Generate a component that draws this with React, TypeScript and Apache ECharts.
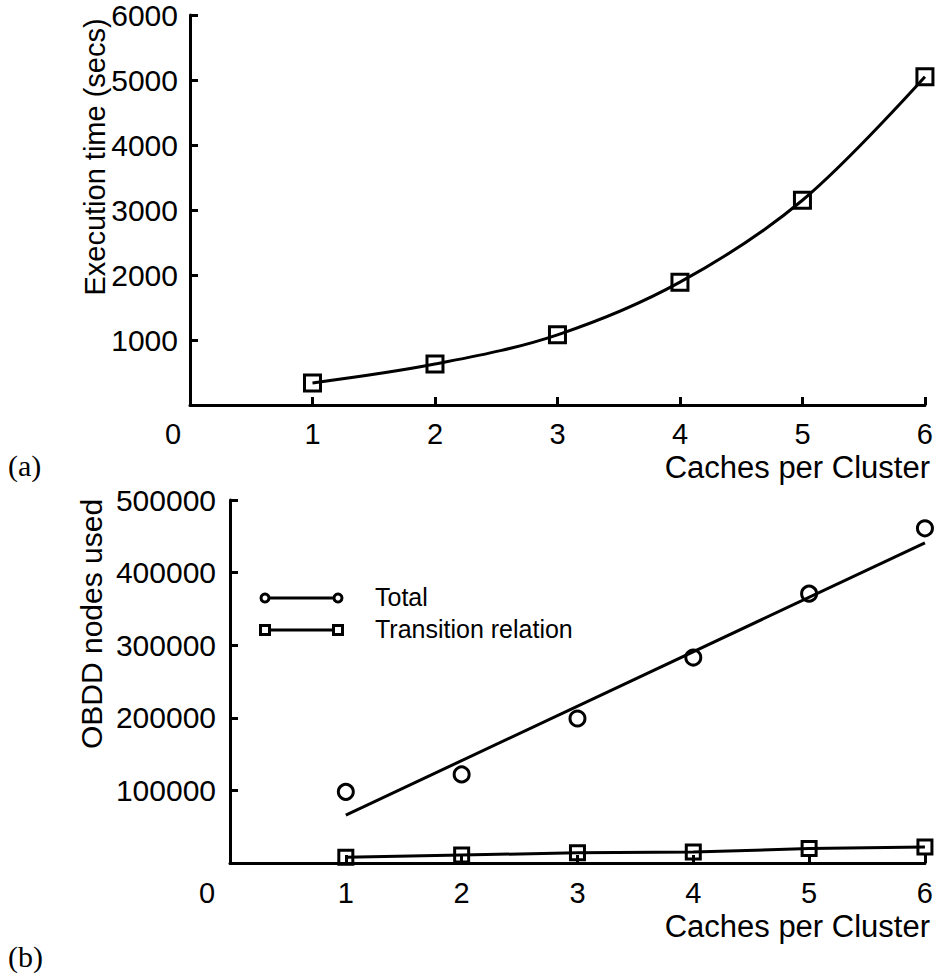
import React, { useEffect, useRef } from 'react';
import * as echarts from 'echarts';

// Data
const cachesPerCluster = [1, 2, 3, 4, 5, 6];
const executionTimeSecs = [340, 630, 1080, 1890, 3150, 5050];
const obddTotal = [98000, 122000, 199000, 283000, 371000, 461000];
const obddTotalFitX = [1, 6];
const obddTotalFit = [66000, 441000];
const obddTransition = [8000, 11000, 14000, 15000, 20000, 22000];

const xTickLabels = ['0', '1', '2', '3', '4', '5', '6'];
const execTickLabels = ['', '1000', '2000', '3000', '4000', '5000', '6000'];
const obddTickLabels = ['', '100000', '200000', '300000', '400000', '500000'];

const FONT = "'Liberation Sans', Arial, Helvetica, sans-serif";
const SERIF = "'Liberation Serif', 'Times New Roman', serif";
const BLACK = '#000';

export default function App() {
  const ref = useRef<HTMLDivElement>(null);

  useEffect(() => {
    if (!ref.current) return;
    const chart = echarts.init(ref.current, undefined, { renderer: 'svg' });

    const axisLine = { show: true, lineStyle: { color: BLACK, width: 3 } };
    const axisTick = { show: true, inside: true, length: 8, lineStyle: { color: BLACK, width: 3 } };

    const makeX = (gridIndex: number, zeroPad: number, margin: number) => ({
      type: 'value',
      gridIndex,
      min: 0,
      max: 6,
      interval: 1,
      axisLine,
      axisTick,
      splitLine: { show: false },
      axisLabel: {
        margin,
        color: BLACK,
        fontFamily: FONT,
        fontSize: 29,
        lineHeight: 22,
        formatter: (v: number) => {
          const lbl = xTickLabels[Math.round(v)] ?? String(v);
          return v === 0 ? `{z|${lbl}}` : lbl;
        },
        rich: { z: { fontFamily: FONT, fontSize: 29, lineHeight: 22, color: BLACK, padding: [0, zeroPad, 0, 0] } },
      },
    });

    const symStyle = { color: 'rgba(0,0,0,0)', borderColor: BLACK, borderWidth: 3, opacity: 1 };

    chart.setOption({
      animation: false,
      backgroundColor: '#fff',
      grid: [
        { left: 190, right: 9, top: 15, height: 390 },
        { left: 230, right: 7, top: 500, height: 363 },
      ],
      xAxis: [makeX(0, 34, 18), makeX(1, 46, 19)],
      yAxis: [
        {
          type: 'value',
          gridIndex: 0,
          min: 0,
          max: 6000,
          interval: 1000,
          axisLine,
          axisTick,
          splitLine: { show: false },
          axisLabel: {
            margin: 12,
            color: BLACK,
            fontFamily: FONT,
            fontSize: 30,
            formatter: (v: number) => execTickLabels[Math.round(v / 1000)] ?? '',
          },
        },
        {
          type: 'value',
          gridIndex: 1,
          min: 0,
          max: 500000,
          interval: 100000,
          axisLine,
          axisTick,
          splitLine: { show: false },
          axisLabel: {
            margin: 14,
            color: BLACK,
            fontFamily: FONT,
            fontSize: 30,
            formatter: (v: number) => obddTickLabels[Math.round(v / 100000)] ?? '',
          },
        },
      ],
      series: [
        {
          name: 'Execution time',
          type: 'line',
          xAxisIndex: 0,
          yAxisIndex: 0,
          smooth: 0.35,
          data: cachesPerCluster.map((c, i) => [c, executionTimeSecs[i]]),
          symbol: 'rect',
          symbolSize: 16,
          lineStyle: { color: BLACK, width: 3 },
          itemStyle: symStyle,
        },
        {
          name: 'Total fit',
          type: 'line',
          xAxisIndex: 1,
          yAxisIndex: 1,
          data: obddTotalFitX.map((c, i) => [c, obddTotalFit[i]]),
          symbol: 'none',
          lineStyle: { color: BLACK, width: 3 },
        },
        {
          name: 'Total',
          type: 'scatter',
          xAxisIndex: 1,
          yAxisIndex: 1,
          data: cachesPerCluster.map((c, i) => [c, obddTotal[i]]),
          symbol: 'circle',
          symbolSize: 15,
          itemStyle: symStyle,
        },
        {
          name: 'Transition relation',
          type: 'line',
          xAxisIndex: 1,
          yAxisIndex: 1,
          data: cachesPerCluster.map((c, i) => [c, obddTransition[i]]),
          symbol: 'rect',
          symbolSize: 14,
          lineStyle: { color: BLACK, width: 3 },
          itemStyle: symStyle,
        },
      ],
      graphic: [
        {
          type: 'text',
          x: 95,
          y: 157,
          rotation: Math.PI / 2,
          style: { text: 'Execution time (secs)', font: `29px ${FONT}`, fill: BLACK, align: 'center', verticalAlign: 'middle' },
        },
        {
          type: 'text',
          x: 91,
          y: 624,
          rotation: Math.PI / 2,
          style: { text: 'OBDD nodes used', font: `30px ${FONT}`, fill: BLACK, align: 'center', verticalAlign: 'middle' },
        },
        {
          type: 'text',
          x: 930,
          y: 467,
          style: { text: 'Caches per Cluster', font: `31px ${FONT}`, lineHeight: 24, fill: BLACK, align: 'right', verticalAlign: 'middle' },
        },
        {
          type: 'text',
          x: 930,
          y: 926,
          style: { text: 'Caches per Cluster', font: `31px ${FONT}`, lineHeight: 24, fill: BLACK, align: 'right', verticalAlign: 'middle' },
        },
        {
          type: 'text',
          x: 8,
          y: 465,
          style: { text: '(a)', font: `30px ${SERIF}`, fill: BLACK, align: 'left', verticalAlign: 'middle' },
        },
        {
          type: 'text',
          x: 8,
          y: 956,
          style: { text: '(b)', font: `30px ${SERIF}`, fill: BLACK, align: 'left', verticalAlign: 'middle' },
        },
        // Legend
        { type: 'line', shape: { x1: 265, y1: 598, x2: 338, y2: 598 }, style: { stroke: BLACK, lineWidth: 3 } },
        { type: 'circle', shape: { cx: 265, cy: 598, r: 4 }, style: { stroke: BLACK, lineWidth: 3, fill: '#fff' } },
        { type: 'circle', shape: { cx: 338, cy: 598, r: 4 }, style: { stroke: BLACK, lineWidth: 3, fill: '#fff' } },
        {
          type: 'text',
          x: 375,
          y: 597,
          style: { text: 'Total', font: `25px ${FONT}`, fill: BLACK, align: 'left', verticalAlign: 'middle' },
        },
        { type: 'line', shape: { x1: 265, y1: 630, x2: 338, y2: 630 }, style: { stroke: BLACK, lineWidth: 3 } },
        { type: 'rect', shape: { x: 260.5, y: 625.5, width: 9, height: 9 }, style: { stroke: BLACK, lineWidth: 3, fill: '#fff' } },
        { type: 'rect', shape: { x: 333.5, y: 625.5, width: 9, height: 9 }, style: { stroke: BLACK, lineWidth: 3, fill: '#fff' } },
        {
          type: 'text',
          x: 375,
          y: 629,
          style: { text: 'Transition relation', font: `25px ${FONT}`, fill: BLACK, align: 'left', verticalAlign: 'middle' },
        },
      ],
    });

    return () => chart.dispose();
  }, []);

  return (
    <div
      ref={ref}
      style={{ position: 'absolute', left: 0, top: 0, width: 936, height: 976, background: '#fff' }}
    />
  );
}
